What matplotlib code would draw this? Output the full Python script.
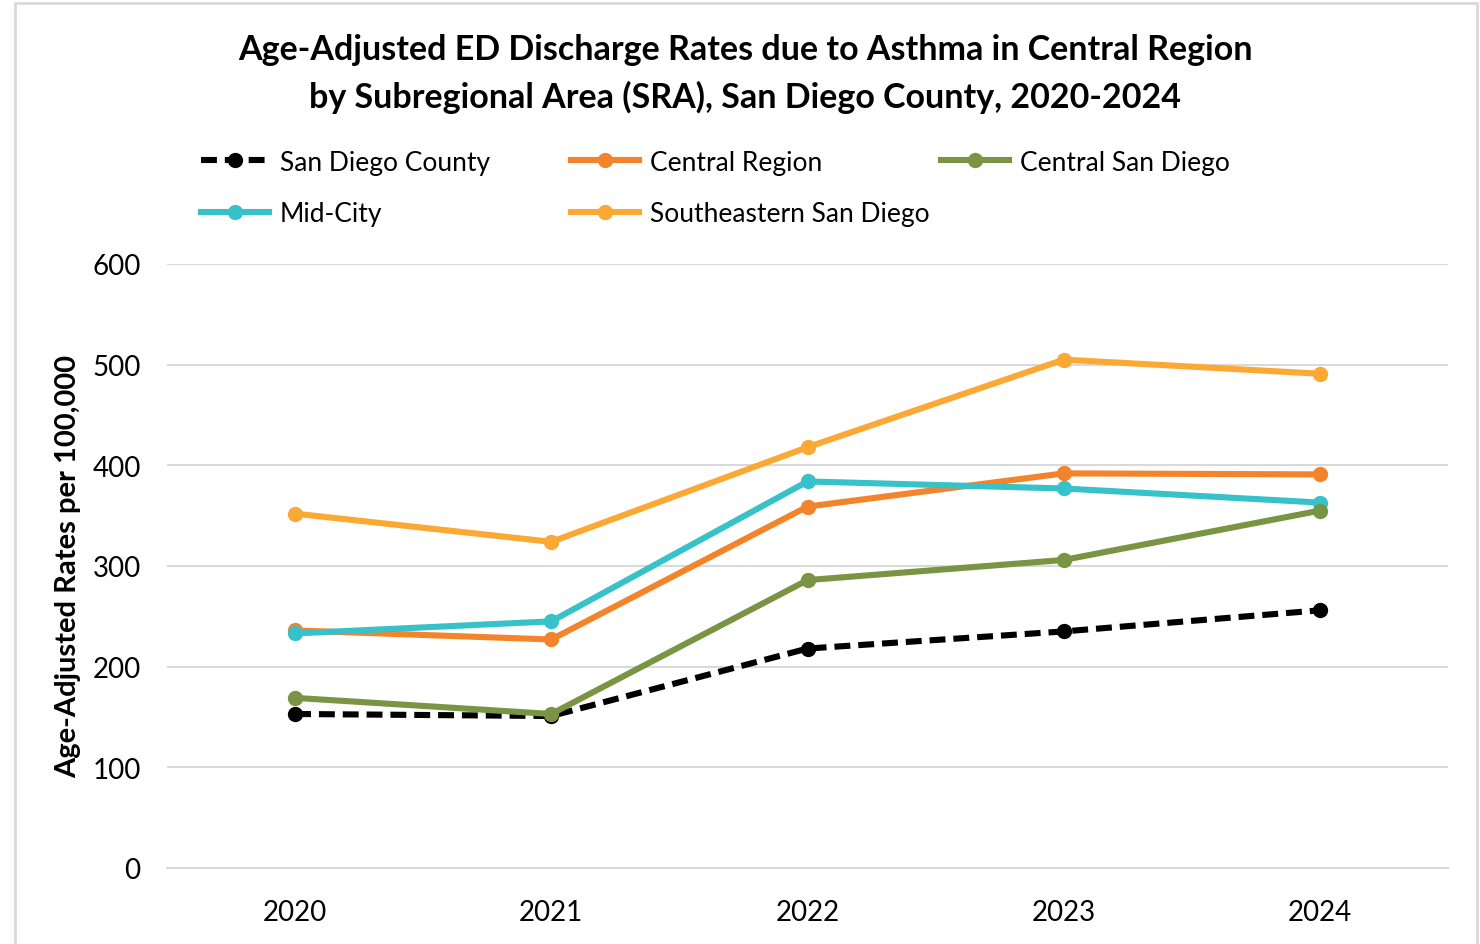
import matplotlib.pyplot as plt
from matplotlib.patches import Rectangle

years = ['2020', '2021', '2022', '2023', '2024']
san_diego_county = [153, 151, 218, 235, 256]
central_region = [236, 227, 359, 392, 391]
central_san_diego = [169, 153, 286, 306, 355]
mid_city = [233, 245, 384, 377, 363]
southeastern_sd = [352, 324, 418, 505, 491]

plt.rcParams['font.family'] = ['Lato', 'DejaVu Sans']

fig = plt.figure(figsize=(14.8, 9.45), dpi=100)
ax = fig.add_axes([167 / 1480, 1 - 869 / 945, (1448 - 167) / 1480, (869 - 265) / 945])

x = range(len(years))
lw = 4.4
ms = 10
l1, = ax.plot(x, san_diego_county, color='black', lw=lw, ls=(0, (2.6, 1.3)), marker='o', ms=ms,
              label='San Diego County', zorder=2.4)
l2, = ax.plot(x, central_region, color='#f4842b', lw=lw, marker='o', ms=ms, label='Central Region')
l3, = ax.plot(x, central_san_diego, color='#799443', lw=lw, marker='o', ms=ms,
              label='Central San Diego', zorder=2.5)
l4, = ax.plot(x, mid_city, color='#37c1c8', lw=lw, marker='o', ms=ms, label='Mid-City')
l5, = ax.plot(x, southeastern_sd, color='#fba834', lw=lw, marker='o', ms=ms, label='Southeastern San Diego')

ax.set_xlim(-0.5, 4.5)
ax.set_ylim(0, 600)
ax.set_yticks(range(0, 601, 100))
ax.set_xticks(list(x))
ax.set_xticklabels(years)
ax.tick_params(axis='both', length=0, labelsize=20, colors='black')
ax.tick_params(axis='x', pad=22)
ax.tick_params(axis='y', pad=19)
ax.grid(axis='y', color='#d9d9d9', lw=1.5)
ax.set_axisbelow(True)
for s in ['top', 'right', 'left']:
    ax.spines[s].set_visible(False)
ax.spines['bottom'].set_color('#d9d9d9')
ax.spines['bottom'].set_linewidth(1.5)

fig.text(68 / 1480, 1 - 567 / 945, 'Age-Adjusted Rates per 100,000', rotation=90,
         ha='center', va='center', fontsize=21, fontweight='bold')
fig.text(745 / 1480, 1 - 74 / 945,
         'Age-Adjusted ED Discharge Rates due to Asthma in Central Region\nby Subregional Area (SRA), San Diego County, 2020-2024',
         ha='center', va='center', fontsize=24.5, fontweight='bold', linespacing=1.55)

# legend laid out row by row like the original, one legend per column
columns = [([l1, l4], 190), ([l2, l5], 560), ([l3], 930)]
for hs, xpos in columns:
    leg = fig.legend(handles=hs, loc='upper left', bbox_to_anchor=(xpos / 1480, 1 - 140 / 945),
                     frameon=False, fontsize=19, handlelength=2.6, handletextpad=0.4,
                     labelspacing=1.0, borderaxespad=0)

fig.patches.append(Rectangle((15 / 1480, -0.01), (1477 - 15) / 1480, 1.01 - 4 / 945,
                             transform=fig.transFigure, fill=False, ec='#d9d9d9', lw=2))

fig.savefig('out.png', dpi=100)
